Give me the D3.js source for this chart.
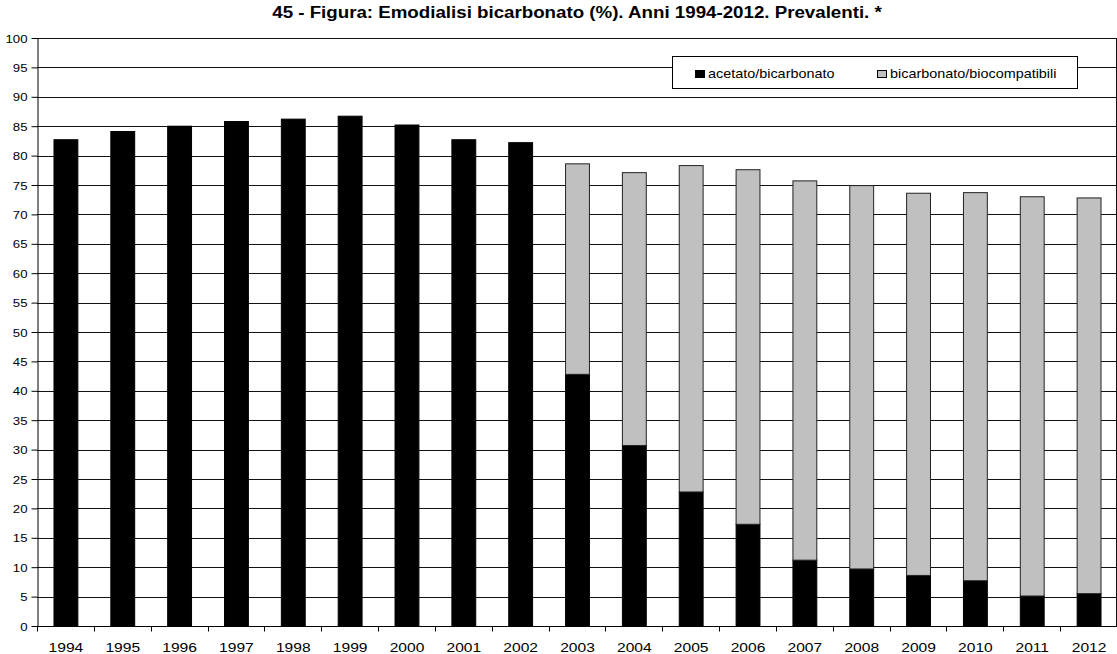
<!DOCTYPE html>
<html><head><meta charset="utf-8">
<script src="https://cdn.jsdelivr.net/npm/d3@7"></script>
<style>body{margin:0;background:#fff}svg{display:block;font-family:"Liberation Sans",Arial,sans-serif}</style>
</head><body><svg id="c" width="1117" height="654"></svg>
<script>
const years = ["1994","1995","1996","1997","1998","1999","2000","2001","2002","2003","2004","2005","2006","2007","2008","2009","2010","2011","2012"];
const acetato = [82.7,84.1,85.0,85.8,86.2,86.7,85.2,82.7,82.2,42.8,30.7,22.8,17.3,11.2,9.7,8.6,7.7,5.1,5.5];
const biocompatibili = [0,0,0,0,0,0,0,0,0,35.8,46.4,55.5,60.3,64.5,65.2,65.0,66.0,67.9,67.3];
const seriesNames = ["acetato/bicarbonato","bicarbonato/biocompatibili"];
const yTicks = d3.range(0,101,5);
const title = "45 - Figura: Emodialisi bicarbonato (%). Anni 1994-2012. Prevalenti. *";

const SX = 1.2; // horizontal stretch of the original rendering
const svg = d3.select("#c");
const m = {l:37, r:0, t:38, b:28};
const W = 1117, H = 654;
const x = d3.scaleBand().domain(years).range([m.l, W - m.r]).paddingInner(0.58).paddingOuter(0.29);
const y = d3.scaleLinear().domain([0,100]).range([H - m.b, m.t]);

function sText(sel, tx, ty) {
  sel.attr("x", null).attr("y", null).attr("dy", null)
     .attr("transform", (d,i) => `translate(${typeof tx==="function"?tx(d,i):tx},${typeof ty==="function"?ty(d,i):ty}) scale(${SX},1)`);
}

// gridlines
svg.append("g").selectAll("line").data(yTicks.filter(d=>d>0)).join("line")
  .attr("x1", m.l).attr("x2", W).attr("y1", d=>Math.round(y(d))+0.5).attr("y2", d=>Math.round(y(d))+0.5)
  .attr("stroke", "#111").attr("stroke-width", 1);

// right border
svg.append("line").attr("x1", W-0.5).attr("x2", W-0.5).attr("y1", y(100)).attr("y2", y(0)).attr("stroke","#111");

const data = years.map((yr,i)=>({yr, a:acetato[i], b:biocompatibili[i]}));
const stack = d3.stack().keys(["a","b"])(data);
const colors = ["#000000","#c0c0c0"];
stack.forEach((layer, li) => {
  svg.append("g").selectAll("rect").data(layer.filter(d=>d[1]-d[0]>0)).join("rect")
    .attr("x", d=>x(d.data.yr)+0.5)
    .attr("width", x.bandwidth())
    .attr("y", d=>y(d[1]))
    .attr("height", d=>y(d[0])-y(d[1]))
    .attr("fill", colors[li])
    .attr("stroke", li===0 ? "#000" : "#222").attr("stroke-width", 1);
});

// y axis
const ya = d3.axisLeft(y).tickValues(yTicks).tickSize(6).tickSizeOuter(0).tickPadding(4);
const gy = svg.append("g").attr("transform", `translate(${m.l+0.5},0)`).call(ya);
gy.select(".domain").attr("stroke","#000");
gy.selectAll(".tick line").attr("stroke","#000");
gy.selectAll("text").attr("font-size", 11).attr("fill","#000")
  .attr("font-family","Liberation Sans, Arial, sans-serif").attr("dy", null).attr("x", null)
  .attr("transform", `translate(-10,4) scale(${SX},1)`);

// x axis
const gx = svg.append("g").attr("transform", `translate(0,${y(0)+0.5})`);
gx.append("line").attr("x1", m.l).attr("x2", W).attr("stroke","#000");
const bounds = d3.range(years.length+1).map(i => m.l + (W - m.l) * i / years.length);
gx.selectAll("line.t").data(bounds).join("line").attr("class","t")
  .attr("x1", d=>Math.round(d)+0.5).attr("x2", d=>Math.round(d)+0.5).attr("y1",0).attr("y2",5).attr("stroke","#000");
gx.selectAll("text").data(years).join("text")
  .attr("text-anchor","middle").attr("font-size", 13).attr("fill","#000").text(d=>d)
  .call(sText, d=>x(d)+x.bandwidth()/2+0.5, 25);

// title
svg.append("text").attr("text-anchor","middle")
  .attr("font-size", 15.6).attr("font-weight","bold").text(title)
  .call(sText, (m.l + W)/2, 18);

// legend
const lg = svg.append("g");
lg.append("rect").attr("x", 672.5).attr("y", 56.5).attr("width", 405).attr("height", 32)
  .attr("fill","#fff").attr("stroke","#000");
const lx = [695, 877];
seriesNames.forEach((n,i)=>{
  lg.append("rect").attr("x", lx[i]+0.5).attr("y", 70.5).attr("width", 9).attr("height", 7)
    .attr("fill", colors[i]).attr("stroke","#000");
  lg.append("text").attr("font-size", 12).text(n).call(sText, lx[i]+13, 77.5);
});
</script></body></html>
